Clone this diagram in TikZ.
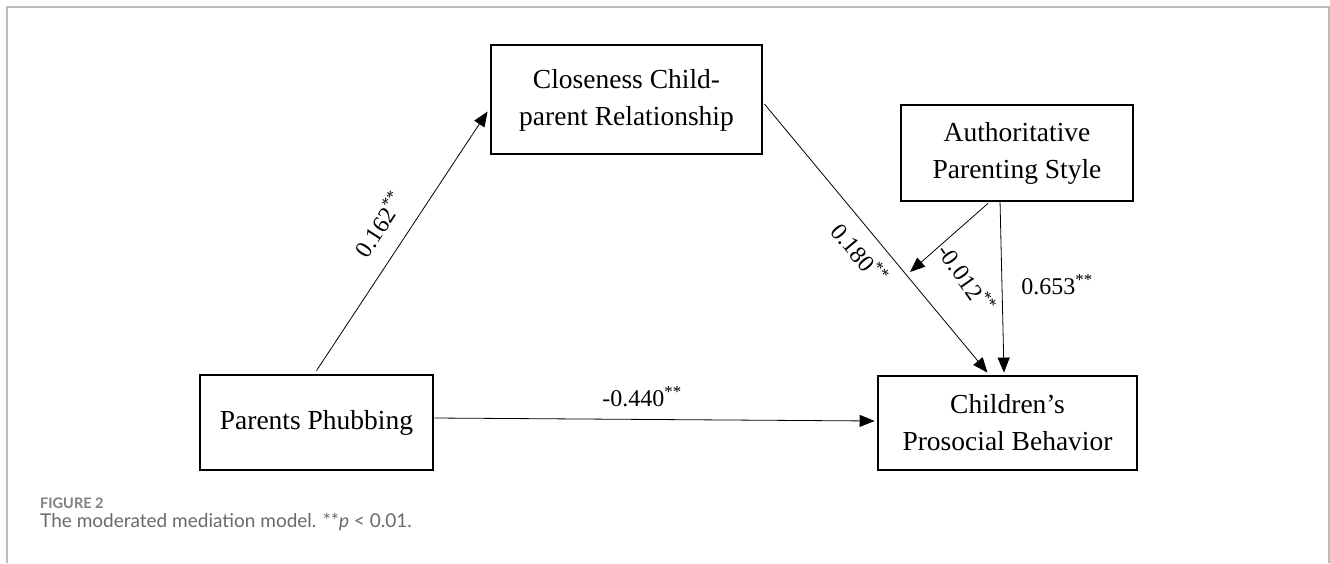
\documentclass[tikz,border=0pt]{standalone}
\usepackage{fontspec}
\setmainfont{Liberation Serif}
\newfontfamily\capfont{Lato}
\usetikzlibrary{arrows.meta}
\definecolor{framegray}{HTML}{BBBBBB}
\definecolor{capgray}{HTML}{808080}
\definecolor{captext}{HTML}{6A6A6A}
\tikzset{
  varbox/.style={draw, line width=2.8pt, align=center, inner sep=0pt,
    font=\fontsize{27.5}{37}\selectfont},
  arr/.style={line width=0.8pt, -{Triangle[length=15pt,width=12pt]}},
  coef/.style={font=\fontsize{24}{28}\selectfont, inner sep=1pt},
}
\begin{document}
\begin{tikzpicture}[x=1pt,y=-1pt]
\useasboundingbox (0,0) rectangle (1330,563);
\fill[white] (0,0) rectangle (1330,563);
\draw[framegray, line width=1.5pt] (7,563) -- (7,7) -- (1329,7) -- (1329,563);

\node[varbox, minimum width=271pt, minimum height=109pt] (cc) at (626.5,99.5)
  {\raisebox{5pt}{\begin{tabular}{@{}c@{}}Closeness Child-\\parent Relationship\end{tabular}}};
\node[varbox, minimum width=232pt, minimum height=96pt] (ap) at (1017,153)
  {Authoritative\\Parenting Style};
\node[varbox, minimum width=233pt, minimum height=95pt] (pp) at (316.5,422.5)
  {Parents Phubbing};
\node[varbox, minimum width=259pt, minimum height=94pt] (cb) at (1007.5,423)
  {Children’s\\Prosocial Behavior};

\coordinate (m) at (910,272);

\draw[arr] ([yshift=3pt]pp.north) -- ([yshift=-12pt,xshift=-2pt]cc.west);
\draw[arr] ([yshift=-4.5pt,xshift=1pt]cc.east) -- ([xshift=-20pt,yshift=2pt]cb.north);
\draw[arr] ([xshift=-17pt,yshift=2pt]ap.south) -- ([xshift=-3.5pt,yshift=2pt]cb.north);
\draw[arr] ([xshift=-29pt,yshift=-1pt]ap.south) -- (m);
\draw[arr] ([yshift=4.5pt]pp.east) -- ([yshift=2pt,xshift=-2pt]cb.west);

\node[coef, rotate=57] (l1) at (379,224) {0.162\textsuperscript{**}};
\node[coef, rotate=-50] (l2) at (860,253) {0.180\textsuperscript{**}};
\node[coef, rotate=-55] (l3) at (967,278) {-0.012\textsuperscript{**}};
\node[coef] (l4) at (1057,285) {0.653\textsuperscript{**}};
\node[coef] (l5) at (642,397) {-0.440\textsuperscript{**}};

\node[anchor=base west, inner sep=0pt, text=capgray, font=\capfont\fontsize{14.5}{16}\selectfont\bfseries] (fig) at (40,508) {FIGURE 2};
\node[anchor=base west, inner sep=0pt, text=captext, font=\capfont\fontsize{19}{22}\selectfont] (cap) at (40,527) {The moderated mediation model. **\textit{p} < 0.01.};
\end{tikzpicture}
\end{document}
